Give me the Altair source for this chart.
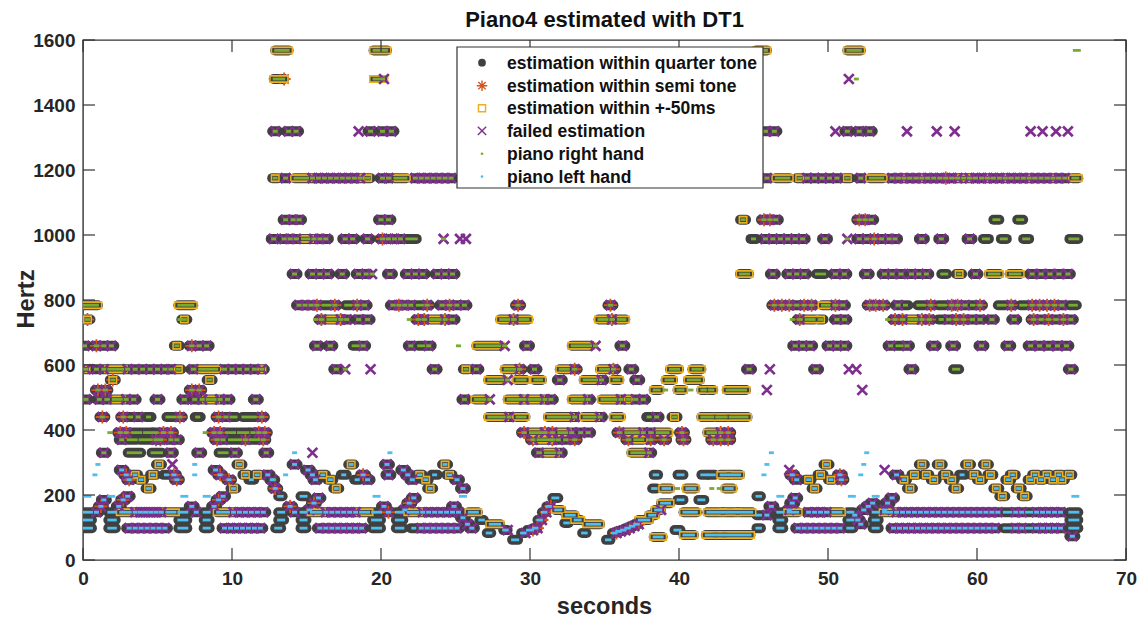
import altair as alt
import pandas as pd

TITLE = "Piano4 estimated with DT1"
X_TITLE = "seconds"
Y_TITLE = "Hertz"
X_TICKS = [0, 10, 20, 30, 40, 50, 60, 70]
Y_TICKS = [0, 200, 400, 600, 800, 1000, 1200, 1400, 1600]
LEGEND_LABELS = [
    "estimation within quarter tone",
    "estimation within semi tone",
    "estimation within +-50ms",
    "failed estimation",
    "piano right hand",
    "piano left hand",
]

# note events per pitch (Hz): (time, code) or (start, end, code)
# code letters: q = within quarter tone, s = within semi tone, y = within +-50ms,
#               x = failed estimation, "-" = estimate only (no ground-truth note)
RIGHT_HAND = {
    1568: [(12.9, 13.8, "qy"), (19.5, 20.4, "qy"), (45.2, 45.9, "qy"), (51.3, 52.2, "qy"), (66.5, 66.9, "")],
    1480: [(12.8, 13.5, "qys"), (19.5, 20.2, "yx"), (51.4, "x-"), (51.9, "")],
    1319: [(12.9, "qx"), (13.8, "qx"), (14.3, "qx"), (18.5, "x-"), (19.3, "qx"), (20.1, "qx"), (20.7, "qx"),
           (45.8, "qx"), (46.4, "qx"), (50.5, "x-"), (51.3, "qx"), (52.1, "qx"), (52.8, "qx"),
           (55.3, "x-"), (57.3, "x-"), (58.5, "x-"), (63.6, "x-"), (64.4, "x-"), (65.3, "x-"), (66.1, "x-")],
    1175: [(12.9, "qy"), (13.6, "qx"), (14.2, 15.1, "qy"), (15.4, "qx"), (15.8, "qx"), (16.2, "qx"), (16.6, "qx"),
           (17.0, "qx"), (17.4, "qx"), (17.8, "qx"), (18.2, "qx"), (18.6, "qyx"), (19.1, "qy"), (20.1, "qx"),
           (20.5, "qx"), (20.9, 21.7, "qy"), (22.3, "qx"), (22.7, "qx"), (23.1, "qx"), (23.5, "qx"), (23.9, "qx"),
           (24.3, "qx"), (24.7, "qx"),
           (45.9, "qx"), (46.5, 47.4, "qy"), (48.1, "qy"), (48.6, "qx"), (49.1, "qx"), (49.6, "qx"), (50.1, "qx"),
           (50.6, "qx"), (51.3, "qy"), (52.2, "qx"), (52.8, 53.7, "qy"), (54.3, "qx"), (54.7, "qx"), (55.1, "qyx"),
           (55.5, "qx"), (55.9, "qx"), (56.3, "qyx"), (56.7, "qx"), (57.1, "qx"), (57.5, "qx"), (57.9, "qsx"),
           (58.3, "qx"), (58.7, "qyx"), (59.1, "qy"), (59.5, "qyx"), (59.9, "qx"), (60.3, "qx"), (60.7, "qyx"),
           (61.1, "qx"), (61.5, "qx"), (61.9, "qyx"), (62.3, "qx"), (62.7, "qx"), (63.1, "qx"), (63.5, "qyx"),
           (63.9, "qx"), (64.3, "qx"), (64.7, "qx"), (65.1, "qyx"), (65.5, "qx"), (65.9, "qx"), (66.4, 66.8, "qy")],
    1047: [(13.6, "qx"), (14.1, "qx"), (14.5, "qx"), (20.0, "qx"), (20.5, "qx"), (44.3, "qy"), (45.7, "qsx"),
           (46.1, "qsx"), (46.5, "qx"), (52.1, "qsx"), (52.5, "qsx"), (52.9, "qx"), (61.1, 61.5, "q"), (62.7, 63.1, "q")],
    988: [(12.8, "qx"), (13.5, "qx"), (13.9, "qx"), (14.3, "qx"), (14.7, 15.2, "qy"), (15.5, "qx"), (15.9, "qx"),
          (16.3, "qx"), (17.6, "qx"), (18.1, "qx"), (19.1, "qx"), (20.1, "qsx"), (20.5, "qx"), (20.9, "qx"),
          (21.3, "qx"), (21.7, 22.4, "q"), (24.2, "x"), (25.3, "x-"), (25.7, "x-"),
          (45.0, "q"), (45.8, "qx"), (46.3, "qx"), (46.8, "qx"), (47.3, "qx"), (47.8, "qx"), (48.3, "qx"),
          (49.8, "qx"), (51.3, "x"), (52.1, "qx"), (52.6, "qx"), (53.1, "qsx"), (53.6, "qx"), (54.1, "qx"),
          (54.5, "qx"), (56.3, "qx"), (57.6, "qx"), (59.5, "qx"), (60.4, 60.8, "q"), (61.6, 62.0, "q"),
          (63.1, 63.5, "q"), (66.2, 66.8, "q")],
    880: [(14.2, "qx"), (15.4, "qx"), (15.9, "qx"), (16.4, "qx"), (17.4, "qx"), (18.5, "qx"), (19.0, "qx"),
          (19.4, "x"), (20.6, "qx"), (21.8, "qx"), (22.3, "qx"), (22.8, "qx"), (23.8, "qx"), (24.3, "qx"), (24.8, "qx"),
          (44.1, 44.7, "qy"), (46.3, "qx"), (47.4, "qx"), (47.9, "qx"), (48.4, "qx"), (49.2, 49.8, "q"), (50.5, "qx"),
          (51.1, "qx"), (52.6, "qx"), (53.8, "qx"), (54.3, "qx"), (54.9, "qx"), (55.6, "qx"), (56.1, "qx"),
          (56.6, "qx"), (57.6, 58.0, "q"), (58.8, "qy"), (59.9, "qx"), (60.8, 61.5, "qy"), (62.2, 62.9, "qy"),
          (63.7, "qx"), (64.3, "qx"), (64.9, "qx"), (65.5, "qx"), (66.1, "qx")],
    784: [(0.0, 1.0, "qy"), (6.4, 7.4, "qy"), (14.5, "qx"), (14.9, "qx"), (15.3, "qx"), (15.7, "qsx"), (16.1, 16.6, "q"),
          (16.9, "qsx"), (17.6, 18.0, "q"), (18.4, "qsx"), (18.9, "qx"), (20.8, "qx"), (21.2, "qsx"), (21.6, "qx"),
          (22.0, "qx"), (22.4, 22.8, "q"), (23.1, "qsx"), (24.1, "qx"), (24.6, "qsx"), (25.1, "qx"), (25.6, "qx"),
          (29.2, "qsx"), (35.4, "qsx"),
          (46.4, "qsx"), (46.9, "qsx"), (47.4, "qsx"), (47.9, "qx"), (48.4, "qsx"), (48.9, "qsx"), (49.6, 50.1, "qy"),
          (50.5, "qsx"), (51.0, "qx"), (52.8, "qsx"), (53.2, "qsx"), (53.7, "qsx"), (54.7, "qx"), (55.2, "q"),
          (56.0, 56.5, "q"), (56.9, "qsx"), (57.4, 57.9, "q"), (58.3, "qsx"), (58.7, "qsx"), (59.2, "qx"), (59.7, "q"),
          (60.2, "qsx"), (61.4, 61.9, "q"), (62.3, "qsx"), (62.9, 63.3, "q"), (63.7, "qsx"), (64.2, "qsx"),
          (64.7, "qsx"), (65.2, "qsx"), (65.7, "qx"), (66.2, 66.7, "q")],
    740: [(0.3, "qys"), (6.5, ""), (6.8, "qy"), (15.6, ""), (16.0, "qsx"), (16.4, 17.0, "qy"), (17.3, "qsx"),
          (17.7, "qx"), (18.5, "qx"), (19.1, "qx"), (21.9, ""), (22.5, "qsx"), (22.9, "qsx"), (23.3, 24.0, "qy"),
          (24.3, "qsx"), (24.8, "qx"), (28.0, 28.6, "qy"), (28.9, "qsx"), (29.3, 29.9, "qy"), (34.6, 35.2, "qy"),
          (35.5, "qsx"), (35.9, 36.4, "qy"),
          (47.6, ""), (48.1, "qsx"), (48.5, 49.1, "qy"), (49.5, "qy"), (50.6, "qx"), (51.1, "qx"), (54.0, ""),
          (54.5, "qsx"), (55.0, "qsx"), (55.4, 56.0, "qy"), (56.3, "qsx"), (56.8, "qsx"), (57.6, "q"), (58.1, "qx"),
          (58.6, "qsx"), (59.1, "qsx"), (59.7, "qx"), (60.2, "qx"), (61.0, "qx"), (62.5, "qx"), (63.8, "qsx"),
          (64.3, "qx"), (64.8, "qsx"), (65.3, "qx"), (65.8, "qsx"), (66.3, "qx")],
    659: [(0.1, "qx"), (0.9, "qsx"), (1.4, "qx"), (1.9, "qx"), (6.3, "qy"), (7.3, "qsx"), (7.8, "qx"), (8.3, "qx"),
          (15.7, "qx"), (16.6, "qx"), (18.1, 18.5, "q"), (18.8, "qx"), (22.0, "qx"), (22.5, 22.9, "q"), (23.2, "qx"),
          (25.2, ""), (26.4, 28.0, "qy"), (28.3, "x"), (29.8, "qx"), (32.8, 34.1, "qy"), (34.4, "x"), (36.2, "qx"),
          (47.8, "qx"), (48.3, "qx"), (48.8, "qx"), (50.1, "qx"), (50.6, "qx"), (51.1, "qx"), (54.2, "qx"),
          (54.6, 55.0, "q"), (55.3, "qx"), (57.1, "qx"), (58.4, "qx"), (60.3, "qx"), (62.1, "qx"), (63.6, "qx"),
          (64.2, "qx"), (64.8, "qx"), (65.4, "qx"), (66.0, "qx")],
    587: [(0.2, "qyx"), (0.9, "qx"), (1.4, "qx"), (1.7, 2.7, "qy"), (3.0, "qx"), (3.5, "qx"), (4.0, "qx"), (4.5, "qx"),
          (5.0, "qx"), (5.5, "qx"), (5.9, "qx"), (6.4, "qy"), (7.4, "qx"), (7.8, 9.0, "qy"), (9.5, "qx"), (10.0, "qx"),
          (10.5, "qx"), (11.0, "qx"), (11.5, "qx"), (12.0, "qyx"), (17.0, "qx"), (17.6, "x"), (19.3, "x-"),
          (23.6, "qx"), (25.7, "qy"), (26.4, "qx"), (28.3, 29.0, "qy"), (29.3, "qsx"), (30.3, "qx"),
          (32.0, 32.6, "qy"), (33.0, "qsx"), (34.7, 35.3, "qy"), (35.6, "qsx"), (36.8, "qx"), (39.4, 40.0, "qy"),
          (40.9, 41.5, "qy"), (44.7, "qx"),
          (46.1, "x-"), (49.2, "qx"), (51.4, "x-"), (51.9, "x-"), (55.6, "qx"), (58.4, 58.8, "q"), (66.3, "qx")],
    554: [(2.0, "qys"), (8.5, "qy"), (27.2, 28.2, "qy"), (28.5, "x"), (29.1, 29.7, "qy"), (30.3, 30.8, "qy"),
          (32.0, "qx"), (33.6, 34.5, "qy"), (34.8, "qx"), (35.6, 36.0, "qy"), (37.2, "qx"), (39.1, 39.6, "qy"),
          (40.6, 41.4, "qy")],
    523: [(1.0, "qsx"), (1.5, "qsx"), (7.3, "qsx"), (7.8, "qsx"), (38.3, 38.7, "qy"), (39.1, ""), (39.9, 40.3, "qy"),
          (40.8, ""), (41.5, 41.8, "qy"), (42.0, 42.3, "qy"), (43.2, 44.5, "qy"), (45.9, "x-"), (52.3, "x-")],
    494: [(0.2, "qx"), (1.1, "qx"), (1.6, "qx"), (2.0, 2.6, "qy"), (2.9, "qx"), (3.4, "qx"), (5.0, "qx"), (6.8, "qx"),
          (7.5, "qx"), (8.0, "qx"), (8.3, 8.9, "qy"), (9.2, "qx"), (9.7, "qx"), (11.6, "qx"), (25.6, "qx"),
          (26.3, 27.0, "qy"), (27.3, "x"), (28.5, 29.4, "qy"), (29.6, "qx"), (29.9, 30.7, "qy"), (31.0, "qx"),
          (31.4, "qx"), (32.8, 33.6, "qy"), (33.9, "qx"), (34.8, 35.8, "qy"), (36.1, "qx"), (36.6, "qy"),
          (37.1, "qx"), (37.6, "qx")],
    440: [(1.3, "qsx"), (2.7, "qsx"), (3.2, "q"), (3.7, "qx"), (4.4, "q"), (5.6, 6.2, "q"), (6.5, "qsx"), (7.7, "q"),
          (9.1, "qsx"), (9.6, "qx"), (9.9, 10.3, "q"), (10.7, 11.6, "q"), (12.0, "qsx"), (27.2, 28.3, "qy"),
          (28.6, "qx"), (29.1, 29.7, "qy"), (31.2, 32.7, "qy"), (33.0, "qx"), (33.6, 34.4, "qy"), (34.7, "qx"),
          (35.6, 36.1, "qy"), (38.0, "q"), (38.5, "qx"), (39.7, "qy"), (41.5, 42.3, "qy"), (42.5, 43.2, "qy"),
          (43.4, 44.6, "qy")],
    392: [(1.8, ""), (2.5, "qsx"), (2.9, "qsx"), (3.3, 3.9, "q"), (4.1, 4.7, "q"), (4.9, "q"), (5.4, "qsx"),
          (5.9, "qsx"), (8.2, ""), (8.8, "qsx"), (9.2, "qsx"), (9.6, 10.2, "q"), (10.4, 11.1, "q"), (11.4, "q"),
          (11.8, "qsx"), (12.2, "qsx"), (29.6, "qsx"), (30.0, 30.8, "qy"), (31.0, "qsx"), (31.5, "qsx"),
          (31.9, 32.5, "qy"), (32.8, "qx"), (33.4, "qx"), (33.9, "qx"), (36.0, "qsx"), (36.4, 37.3, "qy"),
          (37.6, "qx"), (38.1, "qx"), (38.5, 39.3, "qy"), (40.2, "qsx"), (41.9, 42.5, "qy"), (42.8, "qsx"),
          (43.3, "qsx")],
    370: [(2.6, "qx"), (3.0, 3.6, "q"), (3.8, 4.6, "q"), (4.9, "qsx"), (5.2, "qsx"), (5.9, "qx"), (6.3, "qx"),
          (9.0, "qsx"), (9.4, "qx"), (9.8, 10.6, "q"), (10.9, "qsx"), (11.2, 11.8, "q"), (12.1, "qsx"),
          (30.2, "qsx"), (30.5, 31.3, "qy"), (31.5, "qsx"), (31.9, "qx"), (32.4, "qx"), (33.0, "qsx"),
          (36.6, "qsx"), (37.0, 37.6, "qy"), (38.1, "qsx"), (39.0, "qsx"), (40.3, "qsx"), (42.3, "qsx"),
          (42.8, "qsx"), (43.3, "qsx")],
    330: [(1.4, "qx"), (3.0, 3.9, "q"), (4.6, 5.3, "q"), (5.9, "qx"), (7.8, "qx"), (9.1, 9.7, "q"), (10.2, "qx"),
          (12.3, "qx"), (15.4, "x-"), (30.6, "qx"), (31.0, 31.7, "qy"), (32.0, "qx"), (36.8, 37.7, "qy"), (38.0, "qx")],
    247: [(12.8, "")],
    220: [(39.9, ""), (42.2, ""), (42.7, "")],
}

LEFT_HAND = {
    330: [(14.2, ""), (20.6, ""), (46.2, ""), (52.6, "")],
    294: [(1.0, ""), (5.1, "qy"), (6.0, "x-"), (7.5, ""), (10.5, "qy"), (14.2, "qx"), (18.0, "qy"), (20.4, "qx"),
          (24.3, "qy"), (45.9, ""), (49.9, "qy"), (52.4, ""), (56.3, "qy"), (57.5, "qy"), (59.4, "qy"), (60.6, "qy")],
    277: [(2.6, "qx"), (8.9, "qx"), (15.1, "qx"), (21.5, "qx"), (47.4, "x-"), (53.8, "x-")],
    262: [(0.8, ""), (2.9, "qsx"), (3.5, "qy"), (4.7, "qy"), (5.6, "q"), (6.1, "qsx"), (7.5, ""), (9.2, "qsx"),
          (10.9, "qy"), (11.7, "qy"), (12.4, "qx"), (13.6, ""), (15.4, "qx"), (16.1, "qy"), (17.5, "q"),
          (18.8, "qsx"), (20.5, "qx"), (21.8, "qx"), (22.6, "qy"), (23.6, "q"), (24.6, "qy"), (38.3, 38.6, "q"),
          (39.9, 40.3, "q"), (41.5, 41.9, "q"), (42.0, 42.4, "q"), (42.8, 43.3, "qy"), (43.4, 44.1, "qy"),
          (45.7, ""), (47.6, "qsx"), (49.5, "qy"), (50.8, "qsx"), (52.2, ""), (54.6, "qx"), (55.8, "qy"),
          (56.6, "qy"), (57.9, "qy"), (59.0, "q"), (59.8, "qy"), (60.9, "qy"), (62.4, "qy"), (63.9, "qy"),
          (64.7, "qy"), (65.5, "qy"), (66.2, "qy")],
    247: [(3.1, "qsx"), (3.9, "qy"), (6.3, "qsx"), (9.8, "qsx"), (11.3, "q"), (12.7, "qx"), (15.6, "qx"),
          (16.6, "qy"), (18.4, "q"), (19.1, "qx"), (22.1, "qx"), (23.0, "qy"), (25.1, "qx"), (47.9, "qx"),
          (48.7, "qy"), (50.2, "qy"), (50.9, "qsx"), (55.1, "qy"), (57.1, "qy"), (58.3, "qy"), (60.2, "qy"),
          (62.1, "qy"), (63.6, "qy"), (64.3, "qy"), (65.1, "qy"), (65.7, "qy")],
    220: [(4.4, "qy"), (10.1, "qy"), (12.9, "qsx"), (17.0, "qy"), (23.3, "qy"), (25.5, "qx"), (38.2, 38.5, "q"),
          (38.9, 39.4, "qy"), (40.5, 41.1, "qy"), (43.1, 43.6, "qy"), (49.1, "qy"), (55.5, "qy"), (58.6, "qy"),
          (61.3, "qy"), (62.8, "qy")],
    196: [(0.1, 0.5, ""), (1.7, 2.1, ""), (3.0, "qx"), (6.6, 7.0, ""), (8.1, 8.5, ""), (9.4, "qx"), (13.1, 13.4, "q"),
          (14.6, 15.0, "q"), (19.5, 19.9, ""), (25.3, 25.7, ""), (45.2, 45.5, "q"), (46.6, 47.0, ""),
          (51.4, 51.8, ""), (53.0, 53.4, ""), (61.7, "qy"), (63.2, "qy"), (66.4, 66.8, "")],
    191: [(15.8, "qx"), (22.2, "qx"), (31.5, 31.9, "q"), (47.8, "qx"), (54.3, "qx")],
    185: [(1.4, "qx"), (2.7, "qsx"), (9.1, "qsx"), (39.9, 40.3, "q"), (41.3, 41.7, "q")],
    175: [(15.5, "qsx"), (21.9, "qsx"), (38.8, 39.4, "qy"), (47.6, "qx"), (53.0, "qx"), (54.0, "qx")],
    165: [(1.2, "qsx"), (2.4, "qx"), (7.3, "qx"), (8.8, "qx"), (13.9, "qsx"), (20.2, "qx"), (24.9, "qx"),
          (31.1, 31.4, "qsx"), (46.2, "qx"), (52.7, "qx")],
    154: [(15.2, "qx"), (21.6, "qx"), (31.7, 32.1, "qy"), (38.4, 38.8, "qyx"), (47.4, "qx"), (52.4, "qx"), (53.8, "qx")],
    147: [(0.0, 0.6, "q"), (0.9, "qx"), (1.7, 2.2, "q"), (2.5, 3.2, "qy"), (3.5, "qx"), (3.85, "qx"), (4.2, "qx"),
          (4.55, "qx"), (4.9, "qx"), (5.25, "qx"), (5.6, 6.2, "qy"), (6.4, 7.0, "q"), (7.6, "qx"), (8.1, 8.5, "q"),
          (9.0, 9.8, "qy"), (10.1, "qx"), (10.5, "qx"), (10.9, "qx"), (11.3, "qx"), (11.7, "qx"), (12.1, "qx"),
          (13.1, 13.5, "q"), (14.2, "qx"), (14.6, 15.0, "q"), (15.3, 16.0, "qy"), (16.3, "qx"), (16.7, "qx"),
          (17.1, "qx"), (17.5, "qx"), (17.9, "qx"), (18.3, "qx"), (18.6, 19.2, "qy"), (19.4, 20.0, "q"),
          (20.5, "qsx"), (21.0, 21.5, "q"), (21.8, 22.5, "qy"), (22.8, "qx"), (23.2, "qx"), (23.6, "qx"),
          (24.0, "qx"), (24.4, "qx"), (24.8, "qx"), (25.2, "qx"), (25.9, 26.5, "qy"), (30.8, 31.1, "qsx"),
          (40.3, 41.2, "qy"), (41.9, 42.9, "qy"), (43.0, 43.9, "qy"), (44.0, 44.9, "qy"), (46.6, 47.0, "q"),
          (47.3, 48.0, "qy"), (48.7, "qx"), (49.1, "qx"), (49.5, "qx"), (49.9, "qx"), (50.3, 50.9, "qy"),
          (51.3, 51.7, "q"), (53.0, 53.4, "q"), (53.7, 54.3, "qy"), (54.6, "qx"), (55.0, "qx"), (55.4, "qx"),
          (55.8, "qx"), (56.2, "qx"), (56.6, "qx"), (57.0, "qx"), (57.4, "qx"), (57.8, "qx"), (58.2, "qx"),
          (58.6, "qx"), (59.0, "qx"), (59.4, "qx"), (59.8, "qx"), (60.2, "qx"), (60.6, "qx"), (61.0, "qx"),
          (61.4, "qx"), (61.8, 62.3, "q"), (62.6, "qx"), (63.0, "qx"), (63.3, 63.7, "q"), (64.0, "qx"),
          (64.4, "qx"), (64.8, "qx"), (65.2, "qx"), (65.6, "qx"), (66.2, 66.8, "q")],
    138: [(32.4, 33.0, "qy"), (38.0, 38.4, "qy"), (45.2, 45.5, "q"), (45.9, "qx"), (51.8, "qx")],
    130: [(25.5, "qx")],
    123: [(0.0, 0.6, "q"), (1.7, 2.2, "q"), (6.4, 7.0, "q"), (8.1, 8.5, "q"), (13.1, 13.5, "q"), (14.6, 15.0, "q"),
          (19.4, 20.0, "q"), (21.0, 21.5, "q"), (26.6, 26.9, "q"), (30.5, 30.8, "qsx"), (33.0, 33.4, "qy"),
          (37.3, 38.0, "qy"), (46.6, 47.0, "q"), (51.3, 51.7, "q"), (52.0, "qx"), (53.0, 53.4, "q"),
          (66.2, 66.8, "q")],
    114: [(32.3, 32.6, "q")],
    110: [(25.8, "qx"), (27.3, 28.0, "qy"), (33.8, 34.7, "qy"), (37.0, 37.3, "qsx"), (52.2, "qx")],
    104: [(36.7, 37.0, "qx")],
    98: [(0.0, 0.6, "q"), (1.7, 2.2, "q"), (3.1, "qx"), (3.5, "qx"), (3.9, "qx"), (4.3, "qx"), (4.7, "qx"),
         (5.1, "qx"), (5.5, "qx"), (6.4, 7.0, "q"), (8.1, 8.5, "q"), (9.5, "qx"), (9.9, "qx"), (10.3, "qx"),
         (10.7, "qx"), (11.1, "qx"), (11.5, "qx"), (11.9, "qx"), (12.9, 13.3, "q"), (14.6, 15.0, "q"),
         (15.9, "qx"), (16.3, "qx"), (16.7, "qx"), (17.1, "qx"), (17.5, "qx"), (17.9, "qx"), (18.3, "qx"),
         (18.7, "qx"), (19.4, 20.0, "q"), (21.0, 21.5, "q"), (22.2, "q"), (22.7, "qx"), (23.1, "qx"), (23.5, "qx"),
         (23.9, "qx"), (24.3, "qx"), (24.7, "qx"), (25.1, "qx"), (26.1, "qx"), (30.2, 30.5, "qsx"),
         (36.4, 36.7, "qsx"), (45.2, 45.5, "q"), (46.6, 47.0, "q"), (48.0, "qx"), (48.4, "qx"), (48.8, "qx"),
         (49.2, "qx"), (49.6, "qx"), (50.0, "qx"), (50.4, "qx"), (50.8, "qx"), (51.3, 51.7, "q"), (53.0, 53.4, "q"),
         (54.4, "qx"), (54.8, "qx"), (55.2, "qx"), (55.6, "qx"), (56.0, "qx"), (56.4, "qx"), (56.8, "qx"),
         (57.2, "qx"), (57.6, "qx"), (58.0, "qx"), (58.4, "qx"), (58.8, "qx"), (59.2, "qx"), (59.6, "qx"),
         (60.0, "qx"), (60.4, "qx"), (60.8, "qx"), (61.2, "qx"), (61.8, 62.3, "q"), (62.6, "qx"), (63.0, "qx"),
         (63.3, 63.7, "q"), (64.0, "qx"), (64.4, "qx"), (64.8, "qx"), (65.2, "qx"), (65.6, "qx"), (66.2, 66.8, "q")],
    92: [(28.2, 28.5, "qx"), (29.8, 30.2, "qsx"), (36.1, 36.4, "qx"), (39.7, 40.1, "q")],
    88: [(35.8, 36.1, "qsx")],
    83: [(27.1, 27.4, "q"), (29.4, 29.7, "qx"), (33.5, 33.8, "q"), (35.5, 35.8, "qsx")],
    77: [(40.3, 41.0, "qy"), (41.8, 42.4, "qy"), (42.5, 43.0, "qy"), (43.1, 44.8, "qy")],
    73: [(66.4, "qx")],
    71: [(38.3, 38.9, "qy")],
    62: [(28.8, 29.2, "q"), (35.1, 35.4, "q")],
}

# ---------------------------------------------------------------- tables
span_rows, point_rows = [], []
for hand, table in (("R", RIGHT_HAND), ("L", LEFT_HAND)):
    for f, notes in table.items():
        for n in notes:
            if len(n) == 3:
                span_rows.append({"t0": n[0], "t1": n[1], "f": f, "hand": hand, "code": n[2]})
            else:
                point_rows.append({"t": n[0], "f": f, "hand": hand, "code": n[1]})
spans = pd.DataFrame(span_rows)
points = pd.DataFrame(point_rows)

# symbol events (stars / crosses) sit at the end of long notes
ev = pd.concat([points[["t", "f", "code"]],
                spans.rename(columns={"t1": "t"})[["t", "f", "code"]]], ignore_index=True)


def has(df, letter):
    return df[df["code"].str.contains(letter, regex=False)]


def truth(df, hand):
    return df[(df["hand"] == hand) & ~df["code"].str.contains("-", regex=False)]


W, H = 1043, 520
FONT = "Liberation Sans"
C_DARK = "#404040"
C_STAR = "#D95319"
C_YEL = "#EDB120"
C_X = "#7E2F8E"
C_RH = "#77AC30"
C_LH = "#4DBEEE"
C_AX = "#333333"
STAR = "M-1,0L1,0M0,-1L0,1M-0.7,-0.7L0.7,0.7M-0.7,0.7L0.7,-0.7"
CROSS = "M-1,-1L1,1M-1,1L1,-1"

xs = alt.Scale(domain=[0, 70], nice=False, zero=False)
ys = alt.Scale(domain=[0, 1600], nice=False)
xaxis = alt.Axis(values=X_TICKS, title=None, grid=False, ticks=False, domain=False, labelFontSize=19,
                 labelFont=FONT, labelFontWeight="bold", labelColor="#262626", labelPadding=9, labelFlush=False,
                 format="d")
yaxis = alt.Axis(values=Y_TICKS, title=None, grid=False, ticks=False, domain=False, labelFontSize=19,
                 labelFont=FONT, labelFontWeight="bold", labelColor="#262626", labelPadding=8, format="d")


def X(field):
    return alt.X(f"{field}:Q", scale=xs, axis=xaxis)


def Y(field="f"):
    return alt.Y(f"{field}:Q", scale=ys, axis=yaxis)


def seg(df, a, b, width, color, off=0.0, cap="butt"):
    return alt.Chart(df).mark_rule(strokeWidth=width, color=color, strokeCap=cap, xOffset=-off,
                                   x2Offset=off, clip=True).encode(x=X(a), x2=alt.X2(f"{b}:Q"), y=Y())


def sym(df, shape, size, color, width):
    return alt.Chart(df).mark_point(shape=shape, size=size, color=color, strokeWidth=width, filled=False,
                                    opacity=1, clip=True).encode(x=X("t"), y=Y())


layers = [
    # within quarter tone (dark gray filled markers)
    seg(has(spans, "q"), "t0", "t1", 10, C_DARK, 0, "round"),
    seg(has(points, "q"), "t", "t", 10, C_DARK, 3, "round"),
    # within semi tone
    sym(has(ev, "s"), STAR, 170, C_STAR, 1.8),
    # within +-50ms (yellow hollow squares)
    seg(has(spans, "y"), "t0", "t1", 8, C_YEL, 4.5),
    seg(has(points, "y"), "t", "t", 8, C_YEL, 4.5),
    seg(has(spans, "y"), "t0", "t1", 4.5, C_DARK, 3),
    seg(has(points, "y"), "t", "t", 4.5, C_DARK, 3),
    # failed estimation
    sym(has(ev, "x"), CROSS, 95, C_X, 2.7),
    # ground truth
    seg(truth(spans, "R"), "t0", "t1", 2.8, C_RH, 1),
    seg(truth(points, "R"), "t", "t", 2.8, C_RH, 2.5),
    seg(truth(spans, "L"), "t0", "t1", 2.8, C_LH, 1),
    seg(truth(points, "L"), "t", "t", 2.8, C_LH, 2.5),
]

# frame ticks (inside, on all four sides)
xt = pd.DataFrame({"t": X_TICKS})
yt = pd.DataFrame({"f": Y_TICKS})
tick = dict(color=C_AX, strokeWidth=1.2)
layers += [
    alt.Chart(xt).mark_rule(**tick).encode(x=X("t"), y=alt.value(H), y2=alt.value(H - 12)),
    alt.Chart(xt).mark_rule(**tick).encode(x=X("t"), y=alt.value(0), y2=alt.value(12)),
    alt.Chart(yt).mark_rule(**tick).encode(y=Y(), x=alt.value(0), x2=alt.value(12)),
    alt.Chart(yt).mark_rule(**tick).encode(y=Y(), x=alt.value(W), x2=alt.value(W - 12)),
]

one = pd.DataFrame({"k": [0]})

# legend
LX0, LX1, LY0, LY1 = 374, 680, 7, 148
SYM_X, TXT_X = 399, 424
ROW_Y = [22.7, 45.7, 68.3, 90.9, 113.8, 136.6]
legend_syms = [
    dict(shape="circle", size=60, color=C_DARK, filled=True, strokeWidth=0),
    dict(shape=STAR, size=110, color=C_STAR, filled=False, strokeWidth=1.4),
    dict(shape="square", size=50, color=C_YEL, filled=False, strokeWidth=1.5),
    dict(shape=CROSS, size=70, color=C_X, filled=False, strokeWidth=1.4),
    dict(shape="circle", size=7, color=C_RH, filled=True, strokeWidth=0),
    dict(shape="circle", size=7, color=C_LH, filled=True, strokeWidth=0),
]
layers.append(alt.Chart(one).mark_rect(fill="white", stroke=C_AX, strokeWidth=1.2).encode(
    x=alt.value(LX0), x2=alt.value(LX1), y=alt.value(LY0), y2=alt.value(LY1)))
for i, (lab, s) in enumerate(zip(LEGEND_LABELS, legend_syms)):
    layers.append(alt.Chart(one).mark_point(opacity=1, **s).encode(x=alt.value(SYM_X), y=alt.value(ROW_Y[i])))
    layers.append(alt.Chart(one).mark_text(text=lab, align="left", baseline="middle", font=FONT, fontSize=17.5,
                                           fontWeight="bold", color="#111111").encode(
        x=alt.value(TXT_X), y=alt.value(ROW_Y[i] + 1)))

# titles
layers += [
    alt.Chart(one).mark_text(text=TITLE, font=FONT, fontSize=22, fontWeight="bold", color="#111111",
                             align="center", baseline="middle").encode(x=alt.value(W / 2), y=alt.value(-20)),
    alt.Chart(one).mark_text(text=X_TITLE, font=FONT, fontSize=23.5, fontWeight="bold", color="#262626",
                             align="center", baseline="middle").encode(x=alt.value(W / 2), y=alt.value(H + 47)),
    alt.Chart(one).mark_text(text=Y_TITLE, font=FONT, fontSize=23.5, fontWeight="bold", color="#262626",
                             align="center", baseline="middle", angle=270).encode(x=alt.value(-56), y=alt.value(259)),
]

chart = alt.layer(*layers).properties(
    width=W, height=H,
    autosize=alt.AutoSizeParams(type="none"),
    padding={"left": 83, "top": 40, "right": 11, "bottom": 59},
).configure_view(stroke=C_AX, strokeWidth=1.4)

chart.save("out.html", embed_options={"renderer": "svg", "actions": False})
